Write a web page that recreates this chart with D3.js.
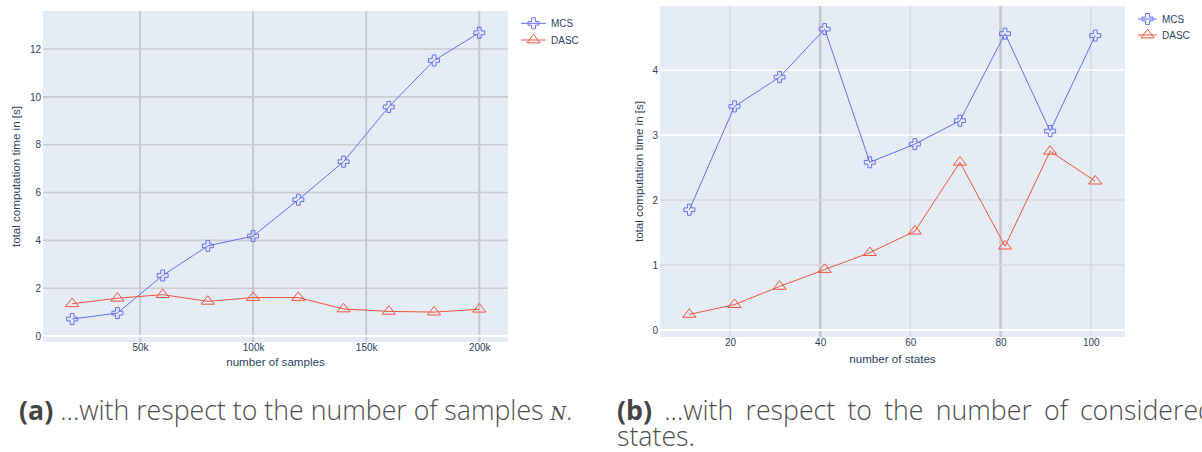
<!DOCTYPE html>
<html>
<head>
<meta charset="utf-8">
<style>
  body { margin: 0; background: #fff; }
  .tick text, .legendText { font: 10px "Liberation Sans", Arial, sans-serif; fill: #2a3f5f; }
  .axisTitle { font: 11.6px "Liberation Sans", Arial, sans-serif; fill: #2a3f5f; }
  .caption { font-family: "Open Sans", sans-serif; fill: #4d4d4d; }
</style>
</head>
<body>
<svg width="1202" height="452"></svg>
<script src="https://d3js.org/d3.v7.min.js"></script>
<script>

// (a) computation time vs number of samples
var samples = [20000, 40000, 60000, 80000, 100000, 120000, 140000, 160000, 180000, 200000];
var mcsA  = [0.71, 0.96, 2.53, 3.77, 4.18, 5.70, 7.29, 9.58, 11.52, 12.68];
var dascA = [1.35, 1.58, 1.73, 1.45, 1.61, 1.61, 1.13, 1.03, 1.00, 1.12];
var xTicksA = [50000, 100000, 150000, 200000];
var xLabelsA = ["50k", "100k", "150k", "200k"];
var yTicksA = [0, 2, 4, 6, 8, 10, 12];

// (b) computation time vs number of states
var states = [11, 21, 31, 41, 51, 61, 71, 81, 91, 101];
var mcsB  = [1.85, 3.44, 3.89, 4.63, 2.58, 2.86, 3.22, 4.56, 3.06, 4.53];
var dascB = [0.24, 0.39, 0.67, 0.93, 1.19, 1.52, 2.58, 1.29, 2.75, 2.29];
var xTicksB = [20, 40, 60, 80, 100];
var yTicksB = [0, 1, 2, 3, 4];

var seriesNames = ["MCS", "DASC"];
var colors = {MCS: "#636efa", DASC: "#EF553B"};

var svg = d3.select("svg");

// marker shapes (plotly cross-open / triangle-up-open)
function crossPath(a, t) {
  return "M" + (-t) + "," + (-a) + "H" + t + "V" + (-t) + "H" + a + "V" + t + "H" + t + "V" + a +
         "H" + (-t) + "V" + t + "H" + (-a) + "V" + (-t) + "H" + (-t) + "Z";
}
function triPath(r) {
  var rt = r * 2 / Math.sqrt(3);
  return "M" + (-rt) + "," + (r / 2) + "H" + rt + "L0," + (-r) + "Z";
}
var symbols = {MCS: crossPath(5.5, 1.85), DASC: triPath(5.7)};

function drawChart(cfg) {
  var x = d3.scaleLinear().domain(cfg.xDomain).range([cfg.left, cfg.right]);
  var y = d3.scaleLinear().domain(cfg.yDomain).range([cfg.bottom, cfg.top]);
  var g = svg.append("g");

  g.append("rect")
      .attr("x", cfg.left).attr("y", cfg.top)
      .attr("width", cfg.right - cfg.left).attr("height", cfg.bottom - cfg.top)
      .attr("fill", "#e5ecf6");

  // grid
  g.selectAll(".vgrid").data(cfg.xTicks).enter().append("line")
      .attr("x1", function(d) { return x(d); }).attr("x2", function(d) { return x(d); })
      .attr("y1", cfg.top).attr("y2", cfg.bottom)
      .attr("stroke", function(d, i) { return cfg.vGrid(i)[0]; })
      .attr("stroke-width", function(d, i) { return cfg.vGrid(i)[1]; });
  g.selectAll(".hgrid").data(cfg.yTicks.filter(function(d) { return d != 0; })).enter().append("line")
      .attr("x1", cfg.left).attr("x2", cfg.right)
      .attr("y1", function(d) { return y(d); }).attr("y2", function(d) { return y(d); })
      .attr("stroke", function(d) { return cfg.hGrid(d)[0]; })
      .attr("stroke-width", function(d) { return cfg.hGrid(d)[1]; });
  g.append("line")
      .attr("x1", cfg.left).attr("x2", cfg.right)
      .attr("y1", y(0)).attr("y2", y(0))
      .attr("stroke", "#fff").attr("stroke-width", 2);

  // axes (labels only, plotly style)
  var xa = g.append("g")
      .attr("transform", "translate(0," + cfg.bottom + ")")
      .call(d3.axisBottom(x).tickValues(cfg.xTicks).tickSize(0).tickPadding(2)
        .tickFormat(function(d, i) { return cfg.xLabels ? cfg.xLabels[i] : d; }));
  xa.select(".domain").remove();
  var ya = g.append("g")
      .attr("transform", "translate(" + (cfg.left - 2) + ",0)")
      .call(d3.axisLeft(y).tickValues(cfg.yTicks).tickSize(0).tickPadding(0)
        .tickFormat(d3.format("~g")));
  ya.select(".domain").remove();

  g.append("text")
      .attr("class", "axisTitle")
      .attr("x", (cfg.left + cfg.right) / 2)
      .attr("y", cfg.xTitleY)
      .attr("text-anchor", "middle")
      .text(cfg.xTitle);
  g.append("text")
      .attr("class", "axisTitle")
      .attr("transform", "translate(" + cfg.yTitleX + "," + ((cfg.top + cfg.bottom) / 2) + ") rotate(-90)")
      .attr("text-anchor", "middle")
      .attr("dy", "0.35em")
      .text("total computation time in [s]");

  // series
  var line = d3.line()
      .x(function(d) { return x(d[0]); })
      .y(function(d) { return y(d[1]); });
  cfg.series.forEach(function(s) {
    var pts = cfg.xs.map(function(v, i) { return [v, s.values[i]]; });
    g.append("path")
        .datum(pts)
        .attr("fill", "none")
        .attr("stroke", colors[s.name])
        .attr("stroke-width", 1)
        .attr("d", line);
    g.selectAll(".m" + s.name).data(pts).enter().append("path")
        .attr("transform", function(d) { return "translate(" + x(d[0]) + "," + y(d[1]) + ")"; })
        .attr("d", symbols[s.name])
        .attr("fill", "none")
        .attr("stroke", colors[s.name])
        .attr("stroke-width", 1);
  });

  // legend
  var legend = g.append("g");
  seriesNames.forEach(function(name, i) {
    var ly = cfg.legendY + i * cfg.legendGap;
    legend.append("line")
        .attr("x1", cfg.legendX).attr("x2", cfg.legendX + cfg.legendLen)
        .attr("y1", ly).attr("y2", ly)
        .attr("stroke", colors[name]).attr("stroke-width", 1);
    legend.append("path")
        .attr("transform", "translate(" + (cfg.legendX + cfg.legendLen / 2) + "," + ly + ")")
        .attr("d", symbols[name])
        .attr("fill", "none")
        .attr("stroke", colors[name]);
    legend.append("text")
        .attr("class", "legendText")
        .attr("x", cfg.legendX + cfg.legendLen + 5)
        .attr("y", ly)
        .attr("dy", "0.35em")
        .text(name);
  });
}

drawChart({
  left: 43, right: 508, top: 11, bottom: 342,
  xDomain: [7100, 212700], yDomain: [-0.25, 13.59],
  xs: samples, xTicks: xTicksA, xLabels: xLabelsA, yTicks: yTicksA,
  vGrid: function() { return ["#c9c9cd", 2]; },
  hGrid: function() { return ["#cbcbcf", 1.6]; },
  series: [{name: "MCS", values: mcsA}, {name: "DASC", values: dascA}],
  xTitle: "number of samples", xTitleY: 366, yTitleX: 15.5,
  legendX: 521, legendY: 23.3, legendGap: 16.7, legendLen: 25
});

drawChart({
  left: 660, right: 1125, top: 6, bottom: 337,
  xDomain: [4.48, 107.6], yDomain: [-0.108, 4.985],
  xs: states, xTicks: xTicksB, yTicks: yTicksB,
  vGrid: function(i) { return (i % 2 == 1) ? ["#c6c6ca", 2.5] : ["#d6d8de", 1.5]; },
  hGrid: function(d) { return d <= 2 ? ["#d6d8de", 1.5] : ["#ffffff", 1.5]; },
  series: [{name: "MCS", values: mcsB}, {name: "DASC", values: dascB}],
  xTitle: "number of states", xTitleY: 363, yTitleX: 639,
  legendX: 1138, legendY: 19, legendGap: 16, legendLen: 19
});

// captions
function caption(x, y, label, body, italic, fontSize) {
  var t = svg.append("text")
      .attr("class", "caption")
      .attr("x", x).attr("y", y)
      .style("font-size", fontSize + "px");
  t.append("tspan").attr("font-weight", "bold").attr("fill", "#444").text(label);
  t.append("tspan").attr("font-weight", 300).text(" " + body);
  if (italic) {
    t.append("tspan").attr("font-family", "'DejaVu Serif', serif").attr("font-style", "italic")
        .style("font-size", (fontSize * 0.85) + "px").text(italic);
    t.append("tspan").attr("font-weight", 300).text(".");
  }
  return t;
}

var capA = caption(19, 420, "(a)", "...with respect to the number of samples ", "N", 21);
var wA = capA.node().getComputedTextLength();
var capSize = 21 * 558 / wA;
capA.style("font-size", capSize + "px");

var capB = caption(617, 420, "(b)", "...with respect to the number of considered", null, capSize);
var wB = capB.node().getComputedTextLength();
capB.style("word-spacing", ((1214 - 617 - wB) / 7) + "px");

svg.append("text")
    .attr("class", "caption")
    .attr("x", 617).attr("y", 446)
    .attr("font-weight", 300)
    .style("font-size", capSize + "px")
    .text("states.");

</script>
</body>
</html>
